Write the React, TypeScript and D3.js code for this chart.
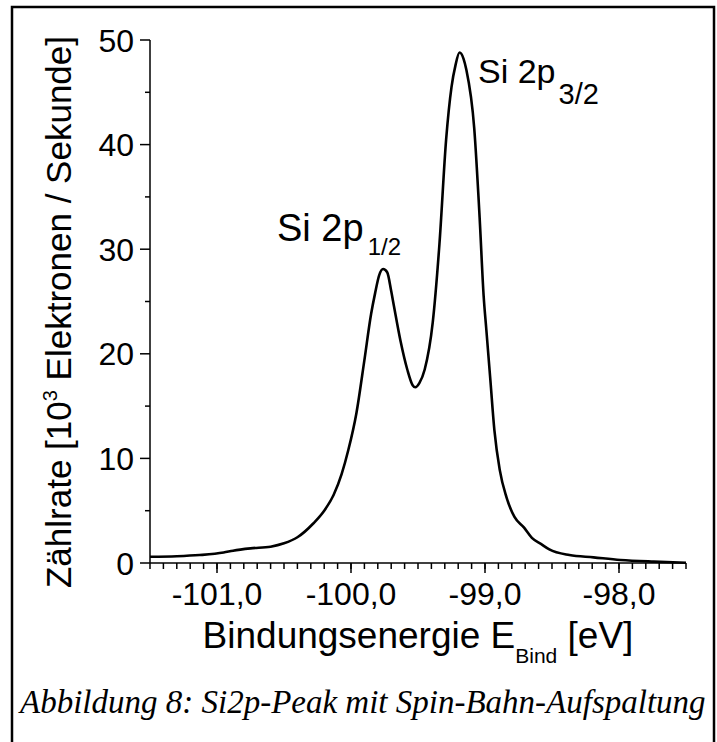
import React from "react";
import * as d3 from "d3";

// Si 2p spectrum (eV, 10^3 counts/s)
const energies = [
  -101.5, -101.3, -101.13, -100.95, -100.88, -100.75, -100.6, -100.5, -100.4,
  -100.28, -100.2, -100.13, -100.07, -100.02, -99.96, -99.9, -99.85, -99.82,
  -99.79, -99.76, -99.73, -99.7, -99.68, -99.63, -99.58, -99.54, -99.52,
  -99.49, -99.45, -99.39, -99.34, -99.29, -99.25, -99.22, -99.19, -99.16,
  -99.14, -99.08, -99.04, -99.01, -98.99, -98.96, -98.93, -98.89, -98.84,
  -98.78, -98.71, -98.65, -98.58, -98.52, -98.37, -98.19, -97.99, -97.74,
  -97.5,
];
const counts = [
  0.6, 0.65, 0.76, 1.0, 1.18, 1.4, 1.56, 1.88, 2.46, 3.8, 5.0, 6.5, 8.5, 10.8,
  14.3, 19.4, 23.8, 25.8, 27.5, 28.1, 27.8, 26.0, 24.6, 21.2, 18.5, 17.0, 16.8,
  17.2, 18.5, 23.0, 30.5, 40.5, 45.5, 47.6, 48.8, 48.2, 47.2, 41.5, 33.0, 25.5,
  22.3, 17.5, 12.7, 8.9, 6.3, 4.4, 3.4, 2.4, 1.8, 1.3, 0.76, 0.54, 0.29, 0.13,
  0.03,
];

const xMajor = [-101, -100, -99, -98];
const yMajor = [0, 10, 20, 30, 40, 50];
const yMinor = [5, 15, 25, 35, 45];

const peakLabels = [
  { main: "Si 2p", sub: "1/2" },
  { main: "Si 2p", sub: "3/2" },
];

const caption = "Abbildung 8: Si2p-Peak mit Spin-Bahn-Aufspaltung";

const W = 717;
const H = 742;
const margin = { left: 150, right: 31, top: 40, bottom: 179 };

const sans = "'Liberation Sans', Arial, sans-serif";
const locale = d3.formatLocale({
  decimal: ",",
  thousands: ".",
  grouping: [3],
  currency: ["", "€"],
  minus: "-",
});
const fmtX = locale.format(".1f");

export default function App() {
  const x = d3
    .scaleLinear()
    .domain([-101.5, -97.5])
    .range([margin.left, W - margin.right]);
  const y = d3
    .scaleLinear()
    .domain([0, 50])
    .range([H - margin.bottom, margin.top]);

  const data = energies.map((e, i) => [e, counts[i]] as [number, number]);
  const line = d3
    .line<[number, number]>()
    .x((d) => x(d[0]))
    .y((d) => y(d[1]))
    .curve(d3.curveMonotoneX);

  const xMinor = d3.range(-101.5, -97.45, 0.1).map((v) => +v.toFixed(1));
  const y0 = y(0);
  const x0 = x(-101.5);

  return (
    <svg
      width={W}
      height={H}
      style={{ position: "absolute", left: 0, top: 0, background: "white" }}
    >
      <rect x={0} y={0} width={W} height={H} fill="white" />
      {/* frame */}
      <rect
        x={12}
        y={7}
        width={702}
        height={800}
        fill="none"
        stroke="black"
        strokeWidth={2.5}
      />

      {/* y axis */}
      <line x1={x0} x2={x0} y1={y(50)} y2={y0} stroke="black" strokeWidth={1.5} />
      {yMajor.map((v) => (
        <g key={"ym" + v}>
          <line x1={x0 - 10} x2={x0} y1={y(v)} y2={y(v)} stroke="black" strokeWidth={1.5} />
          <text
            x={x0 - 16}
            y={y(v) + 11.5}
            textAnchor="end"
            fontFamily={sans}
            fontSize={32}
          >
            {v}
          </text>
        </g>
      ))}
      {yMinor.map((v) => (
        <line key={"yn" + v} x1={x0 - 5} x2={x0} y1={y(v)} y2={y(v)} stroke="black" strokeWidth={1.5} />
      ))}

      {/* x axis */}
      <line x1={x0} x2={x(-97.5)} y1={y0} y2={y0} stroke="black" strokeWidth={1.5} />
      {xMinor.map((v) => (
        <line key={"xn" + v} x1={x(v)} x2={x(v)} y1={y0} y2={y0 + 6} stroke="black" strokeWidth={1.5} />
      ))}
      {xMajor.map((v) => (
        <g key={"xm" + v}>
          <line x1={x(v)} x2={x(v)} y1={y0} y2={y0 + 10} stroke="black" strokeWidth={1.5} />
          <text
            x={x(v)}
            y={y0 + 42}
            textAnchor="middle"
            fontFamily={sans}
            fontSize={32}
          >
            {fmtX(v)}
          </text>
        </g>
      ))}

      {/* curve */}
      <path d={line(data) ?? ""} fill="none" stroke="black" strokeWidth={2.6} strokeLinejoin="round" />

      {/* peak labels */}
      <text x={277} y={241} fontFamily={sans} fontSize={38}>
        {peakLabels[0].main}
        <tspan fontSize={24} dx={4} dy={14}>
          {peakLabels[0].sub}
        </tspan>
      </text>
      <text x={478} y={83} fontFamily={sans} fontSize={34}>
        {peakLabels[1].main}
        <tspan fontSize={29} dx={3} dy={21}>
          {peakLabels[1].sub}
        </tspan>
      </text>

      {/* axis titles */}
      <text
        transform={`translate(71,312) rotate(-90)`}
        textAnchor="middle"
        fontFamily={sans}
        fontSize={35}
      >
        Zählrate [10
        <tspan fontSize={20} dy={-14}>
          3
        </tspan>
        <tspan dy={14}> Elektronen / Sekunde]</tspan>
      </text>
      <text
        x={(x0 + x(-97.5)) / 2}
        y={648}
        textAnchor="middle"
        fontFamily={sans}
        fontSize={37}
      >
        Bindungsenergie E
        <tspan fontSize={21} dy={15}>
          Bind
        </tspan>
        <tspan dy={-15}> [eV]</tspan>
      </text>

      {/* caption */}
      <text
        x={20}
        y={713}
        fontFamily="'Liberation Serif', 'Times New Roman', serif"
        fontStyle="italic"
        fontSize={33}
      >
        {caption}
      </text>
    </svg>
  );
}
